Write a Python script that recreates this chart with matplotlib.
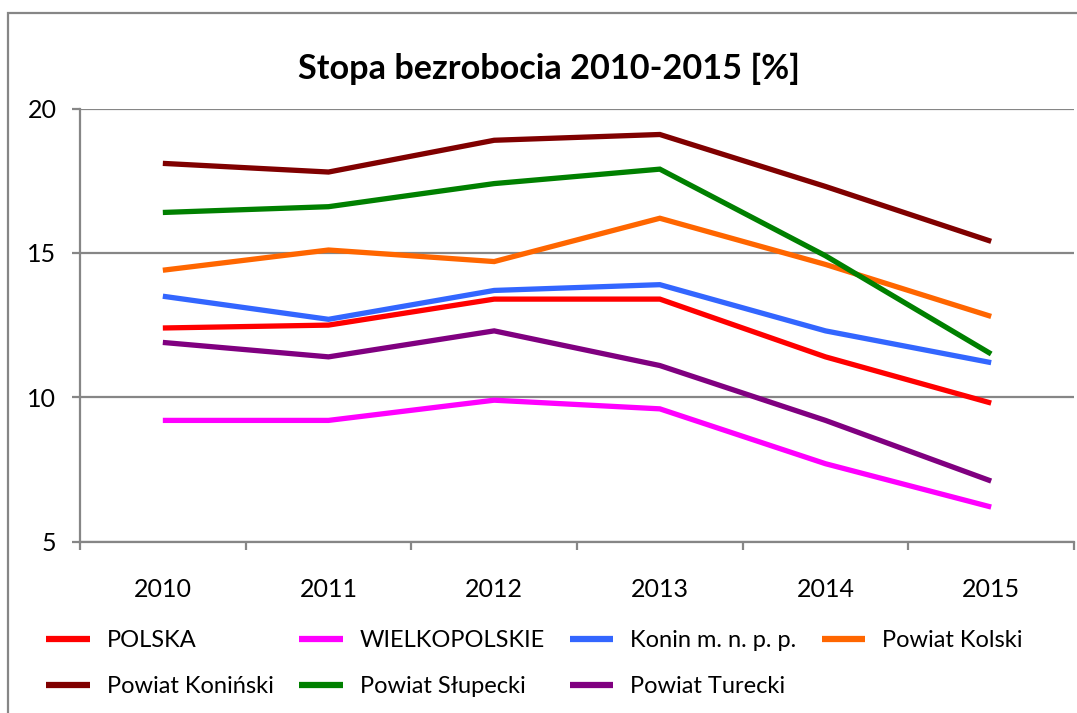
import matplotlib
matplotlib.use("Agg")
import matplotlib.pyplot as plt
from matplotlib.patches import Rectangle

years = ["2010", "2011", "2012", "2013", "2014", "2015"]

polska = [12.4, 12.5, 13.4, 13.4, 11.4, 9.8]
wielkopolskie = [9.2, 9.2, 9.9, 9.6, 7.7, 6.2]
konin = [13.5, 12.7, 13.7, 13.9, 12.3, 11.2]
kolski = [14.4, 15.1, 14.7, 16.2, 14.6, 12.8]
koninski = [18.1, 17.8, 18.9, 19.1, 17.3, 15.4]
slupecki = [16.4, 16.6, 17.4, 17.9, 14.9, 11.5]
turecki = [11.9, 11.4, 12.3, 11.1, 9.2, 7.1]

names = ["POLSKA", "WIELKOPOLSKIE", "Konin m. n. p. p.", "Powiat Kolski",
         "Powiat Koniński", "Powiat Słupecki", "Powiat Turecki"]
series = [polska, wielkopolskie, konin, kolski, koninski, slupecki, turecki]
colors = ["#FF0000", "#FF00FF", "#3366FF", "#FF6600",
          "#800000", "#008000", "#800080"]

plt.rcParams['font.family'] = ['Lato', 'DejaVu Sans']
grey = "#868686"

fig = plt.figure(figsize=(10.77, 7.13), dpi=100)
fig.set_facecolor('white')
ax = fig.add_axes([80 / 1077, 1 - 541.7 / 713, 994 / 1077, 433.2 / 713])

x = list(range(len(years)))
lines = []
for vals, name, c in zip(series, names, colors):
    ln, = ax.plot(x, vals, color=c, linewidth=3.8, label=name,
                  solid_joinstyle='miter', solid_capstyle='butt')
    lines.append(ln)

ax.set_xlim(-0.5, len(years) - 0.5)
ax.set_ylim(5, 20)
ax.set_yticks([5, 10, 15, 20])
ax.set_xticks(x)
ax.set_xticklabels(years)
ax.set_xticks([i - 0.5 for i in range(len(years) + 1)], minor=True)

ax.grid(axis='y', color=grey, linewidth=1.6)
ax.set_axisbelow(True)
for s in ['top', 'right']:
    ax.spines[s].set_visible(False)
for s in ['left', 'bottom']:
    ax.spines[s].set_color(grey)
    ax.spines[s].set_linewidth(1.6)

ax.tick_params(axis='y', direction='out', length=6, width=1.6, color=grey,
               labelsize=18, pad=11)
ax.tick_params(axis='x', which='major', length=0, labelsize=18, pad=26)
ax.tick_params(axis='x', which='minor', direction='out', length=6, width=1.6,
               color=grey)

fig.text(549 / 1077, 1 - 69 / 713, "Stopa bezrobocia 2010-2015 [%]",
         ha='center', va='center', fontsize=24.7, fontweight='bold')

# legend in rows: reorder for column-major fill
order = [0, 4, 1, 5, 2, 6, 3]
leg = fig.legend([lines[i] for i in order], [names[i] for i in order],
                 ncol=4, loc='upper left', bbox_to_anchor=(46 / 1077, 1 - 630 / 713),
                 frameon=False, fontsize=17, handlelength=1.86,
                 handletextpad=0.72, columnspacing=1.05, labelspacing=1.05,
                 borderpad=0, borderaxespad=0)
for h in leg.get_lines():
    h.set_linewidth(4.5)

# chart area border
fig.patches.append(Rectangle((8 / 1077, -0.2), 1.2, 1.2 - 13 / 713,
                             transform=fig.transFigure, fill=False,
                             edgecolor=grey, linewidth=1.6))

fig.savefig("out.png", dpi=100, facecolor='white')
